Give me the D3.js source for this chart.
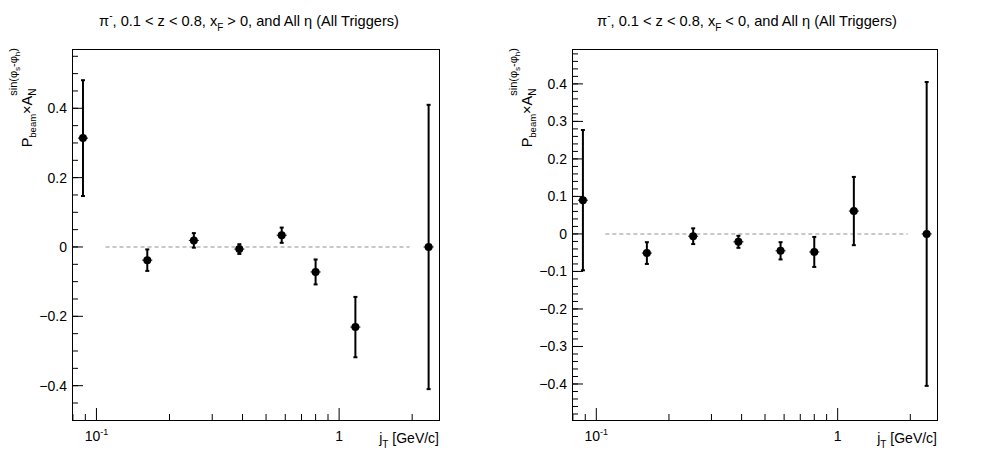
<!DOCTYPE html>
<html>
<head>
<meta charset="utf-8">
<script src="https://cdn.jsdelivr.net/npm/d3@7"></script>
<style>
  body { margin: 0; background: #fff; }
  svg { display: block; font-family: "Liberation Sans", Arial, sans-serif; }
  text { white-space: pre; }
</style>
</head>
<body>
<div id="chart"></div>
<script>
// jT bin centres [GeV/c], shared by both panels
var jT = [0.088, 0.162, 0.252, 0.388, 0.58, 0.80, 1.167, 2.338];

// xF > 0
var posValues = [0.314, -0.038, 0.019, -0.006, 0.034, -0.072, -0.231, 0.0];
var posErrors = [0.167, 0.031, 0.021, 0.014, 0.022, 0.036, 0.087, 0.41];

// xF < 0
var negValues = [0.090, -0.051, -0.006, -0.021, -0.045, -0.048, 0.061, 0.0];
var negErrors = [0.187, 0.029, 0.021, 0.016, 0.023, 0.040, 0.091, 0.405];

var posMajorTicks = [-0.4, -0.2, 0, 0.2, 0.4];
var negMajorTicks = [-0.4, -0.3, -0.2, -0.1, 0, 0.1, 0.2, 0.3, 0.4];
var xMajorTicks = [0.1, 1];
var xMinorTicks = [0.08, 0.09, 0.2, 0.3, 0.4, 0.5, 0.6, 0.7, 0.8, 0.9, 2];

var zeroLine = [0.109, 1.95];

var width = 996;
var height = 472;

var svg = d3.select("#chart").append("svg")
  .attr("width", width)
  .attr("height", height);

svg.append("rect")
  .attr("width", width)
  .attr("height", height)
  .attr("fill", "white");

// place a list of text pieces one after another along a baseline
function richText(parent, pieces, fontSize) {
  var g = parent.append("g");
  var x = 0, lastStart = 0;
  pieces.forEach(function(p) {
    var size = p.size || fontSize;
    var start = p.overlap ? lastStart : x;
    var t = g.append("text")
      .attr("x", start)
      .attr("y", p.dy || 0)
      .attr("font-size", size)
      .text(p.t);
    var w = t.node().getComputedTextLength();
    lastStart = start;
    x = p.overlap ? start + w : Math.max(x, start + w);
  });
  return {g: g, width: x};
}

function drawPanel(opts) {
  var left = opts.left, right = opts.right, top = 49, bottom = 420;

  var x = d3.scaleLog().domain([0.0793, 2.58]).range([left, right]);
  var y = d3.scaleLinear().domain(opts.yDomain).range([bottom, top]);

  var panel = svg.append("g");

  // title
  var title = richText(panel, [
    {t: "\u03c0"}, {t: "-", size: 10, dy: -7}, {t: ", 0.1 < z < 0.8, x"},
    {t: "F", size: 10, dy: 5}, {t: opts.xfText + ", and All \u03b7 (All Triggers)"}
  ], 14.6);
  title.g.attr("transform", "translate(" + (opts.titleX - title.width / 2) + ",26)");

  // zero line
  panel.append("line")
    .attr("x1", x(zeroLine[0]))
    .attr("x2", x(zeroLine[1]))
    .attr("y1", y(0))
    .attr("y2", y(0))
    .attr("stroke", "#c8c8c8")
    .attr("stroke-width", 2)
    .attr("stroke-dasharray", "4,3");

  // y ticks
  var yMinor = d3.range(Math.ceil(opts.yDomain[0] / opts.yMinorStep - 1e-6),
    Math.floor(opts.yDomain[1] / opts.yMinorStep + 1e-6) + 1)
    .map(function(i) { return i * opts.yMinorStep; });
  panel.selectAll(".yminor").data(yMinor).enter().append("line")
    .attr("x1", left).attr("x2", left + 6)
    .attr("y1", function(d) { return y(d); })
    .attr("y2", function(d) { return y(d); })
    .attr("stroke", "black");
  panel.selectAll(".ymajor").data(opts.yTicks).enter().append("line")
    .attr("x1", left).attr("x2", left + 11)
    .attr("y1", function(d) { return y(d); })
    .attr("y2", function(d) { return y(d); })
    .attr("stroke", "black");
  panel.selectAll(".ylab").data(opts.yTicks).enter().append("text")
    .attr("x", left - 5)
    .attr("y", function(d) { return y(d) + 5; })
    .attr("text-anchor", "end")
    .attr("font-size", 14)
    .text(function(d) { return d === 0 ? "0" : d3.format(".1f")(d); });

  // x ticks
  panel.selectAll(".xminor").data(xMinorTicks).enter().append("line")
    .attr("x1", function(d) { return x(d); })
    .attr("x2", function(d) { return x(d); })
    .attr("y1", bottom).attr("y2", bottom - 6)
    .attr("stroke", "black");
  panel.selectAll(".xmajor").data(xMajorTicks).enter().append("line")
    .attr("x1", function(d) { return x(d); })
    .attr("x2", function(d) { return x(d); })
    .attr("y1", bottom).attr("y2", bottom - 12)
    .attr("stroke", "black");

  var l1 = richText(panel, [{t: "10"}, {t: "-1", size: 9, dy: -6}], 14);
  l1.g.attr("transform", "translate(" + (x(0.1) - l1.width / 2) + ",441)");
  panel.append("text")
    .attr("x", x(1)).attr("y", 441)
    .attr("text-anchor", "middle")
    .attr("font-size", 14)
    .text("1");

  // x title
  var xt = richText(panel, [{t: "j"}, {t: "T", size: 10, dy: 5}, {t: " [GeV/c]"}], 14);
  xt.g.attr("transform", "translate(" + (right - xt.width) + ",443)");

  // y title
  var yt = richText(panel, [
    {t: "P"}, {t: "beam", size: 9.5, dy: 4}, {t: "\u00d7A"},
    {t: "N", size: 10, dy: 4},
    {t: "sin(\u03c6", size: 11, dy: -15.5, overlap: true},
    {t: "s", size: 8, dy: -12}, {t: "-\u03c6", size: 11, dy: -15.5},
    {t: "h", size: 8, dy: -12}, {t: ")", size: 11, dy: -15.5}
  ], 14.5);
  yt.g.attr("transform", "translate(" + (left - 40) + "," + (top - 1 + yt.width) + ") rotate(-90)");

  // error bars
  var pts = jT.map(function(d, i) {
    return {x: d, v: opts.values[i], e: opts.errors[i]};
  });
  panel.selectAll(".ebar").data(pts).enter().append("line")
    .attr("x1", function(d) { return x(d.x); })
    .attr("x2", function(d) { return x(d.x); })
    .attr("y1", function(d) { return y(d.v - d.e); })
    .attr("y2", function(d) { return y(d.v + d.e); })
    .attr("stroke", "black")
    .attr("stroke-width", 2);
  [-1, 1].forEach(function(s) {
    panel.selectAll(".cap").data(pts).enter().append("line")
      .attr("x1", function(d) { return x(d.x) - 2; })
      .attr("x2", function(d) { return x(d.x) + 2; })
      .attr("y1", function(d) { return y(d.v + s * d.e); })
      .attr("y2", function(d) { return y(d.v + s * d.e); })
      .attr("stroke", "black")
      .attr("stroke-width", 2);
  });
  panel.selectAll(".xbar").data(pts).enter().append("line")
    .attr("x1", function(d) { return x(d.x) - 5; })
    .attr("x2", function(d) { return x(d.x) + 5; })
    .attr("y1", function(d) { return y(d.v); })
    .attr("y2", function(d) { return y(d.v); })
    .attr("stroke", "black")
    .attr("stroke-width", 1);
  panel.selectAll(".pt").data(pts).enter().append("circle")
    .attr("cx", function(d) { return x(d.x); })
    .attr("cy", function(d) { return y(d.v); })
    .attr("r", 4)
    .attr("fill", "black");

  // frame
  panel.append("rect")
    .attr("x", left + 0.5)
    .attr("y", top + 0.5)
    .attr("width", right - left)
    .attr("height", bottom - top)
    .attr("fill", "none")
    .attr("stroke", "black");
}

drawPanel({
  left: 72, right: 439, titleX: 249,
  xfText: " > 0",
  yDomain: [-0.499, 0.571], yTicks: posMajorTicks, yMinorStep: 0.05,
  values: posValues, errors: posErrors
});

drawPanel({
  left: 572, right: 937, titleX: 747,
  xfText: " < 0",
  yDomain: [-0.496, 0.493], yTicks: negMajorTicks, yMinorStep: 0.02,
  values: negValues, errors: negErrors
});
</script>
</body>
</html>
